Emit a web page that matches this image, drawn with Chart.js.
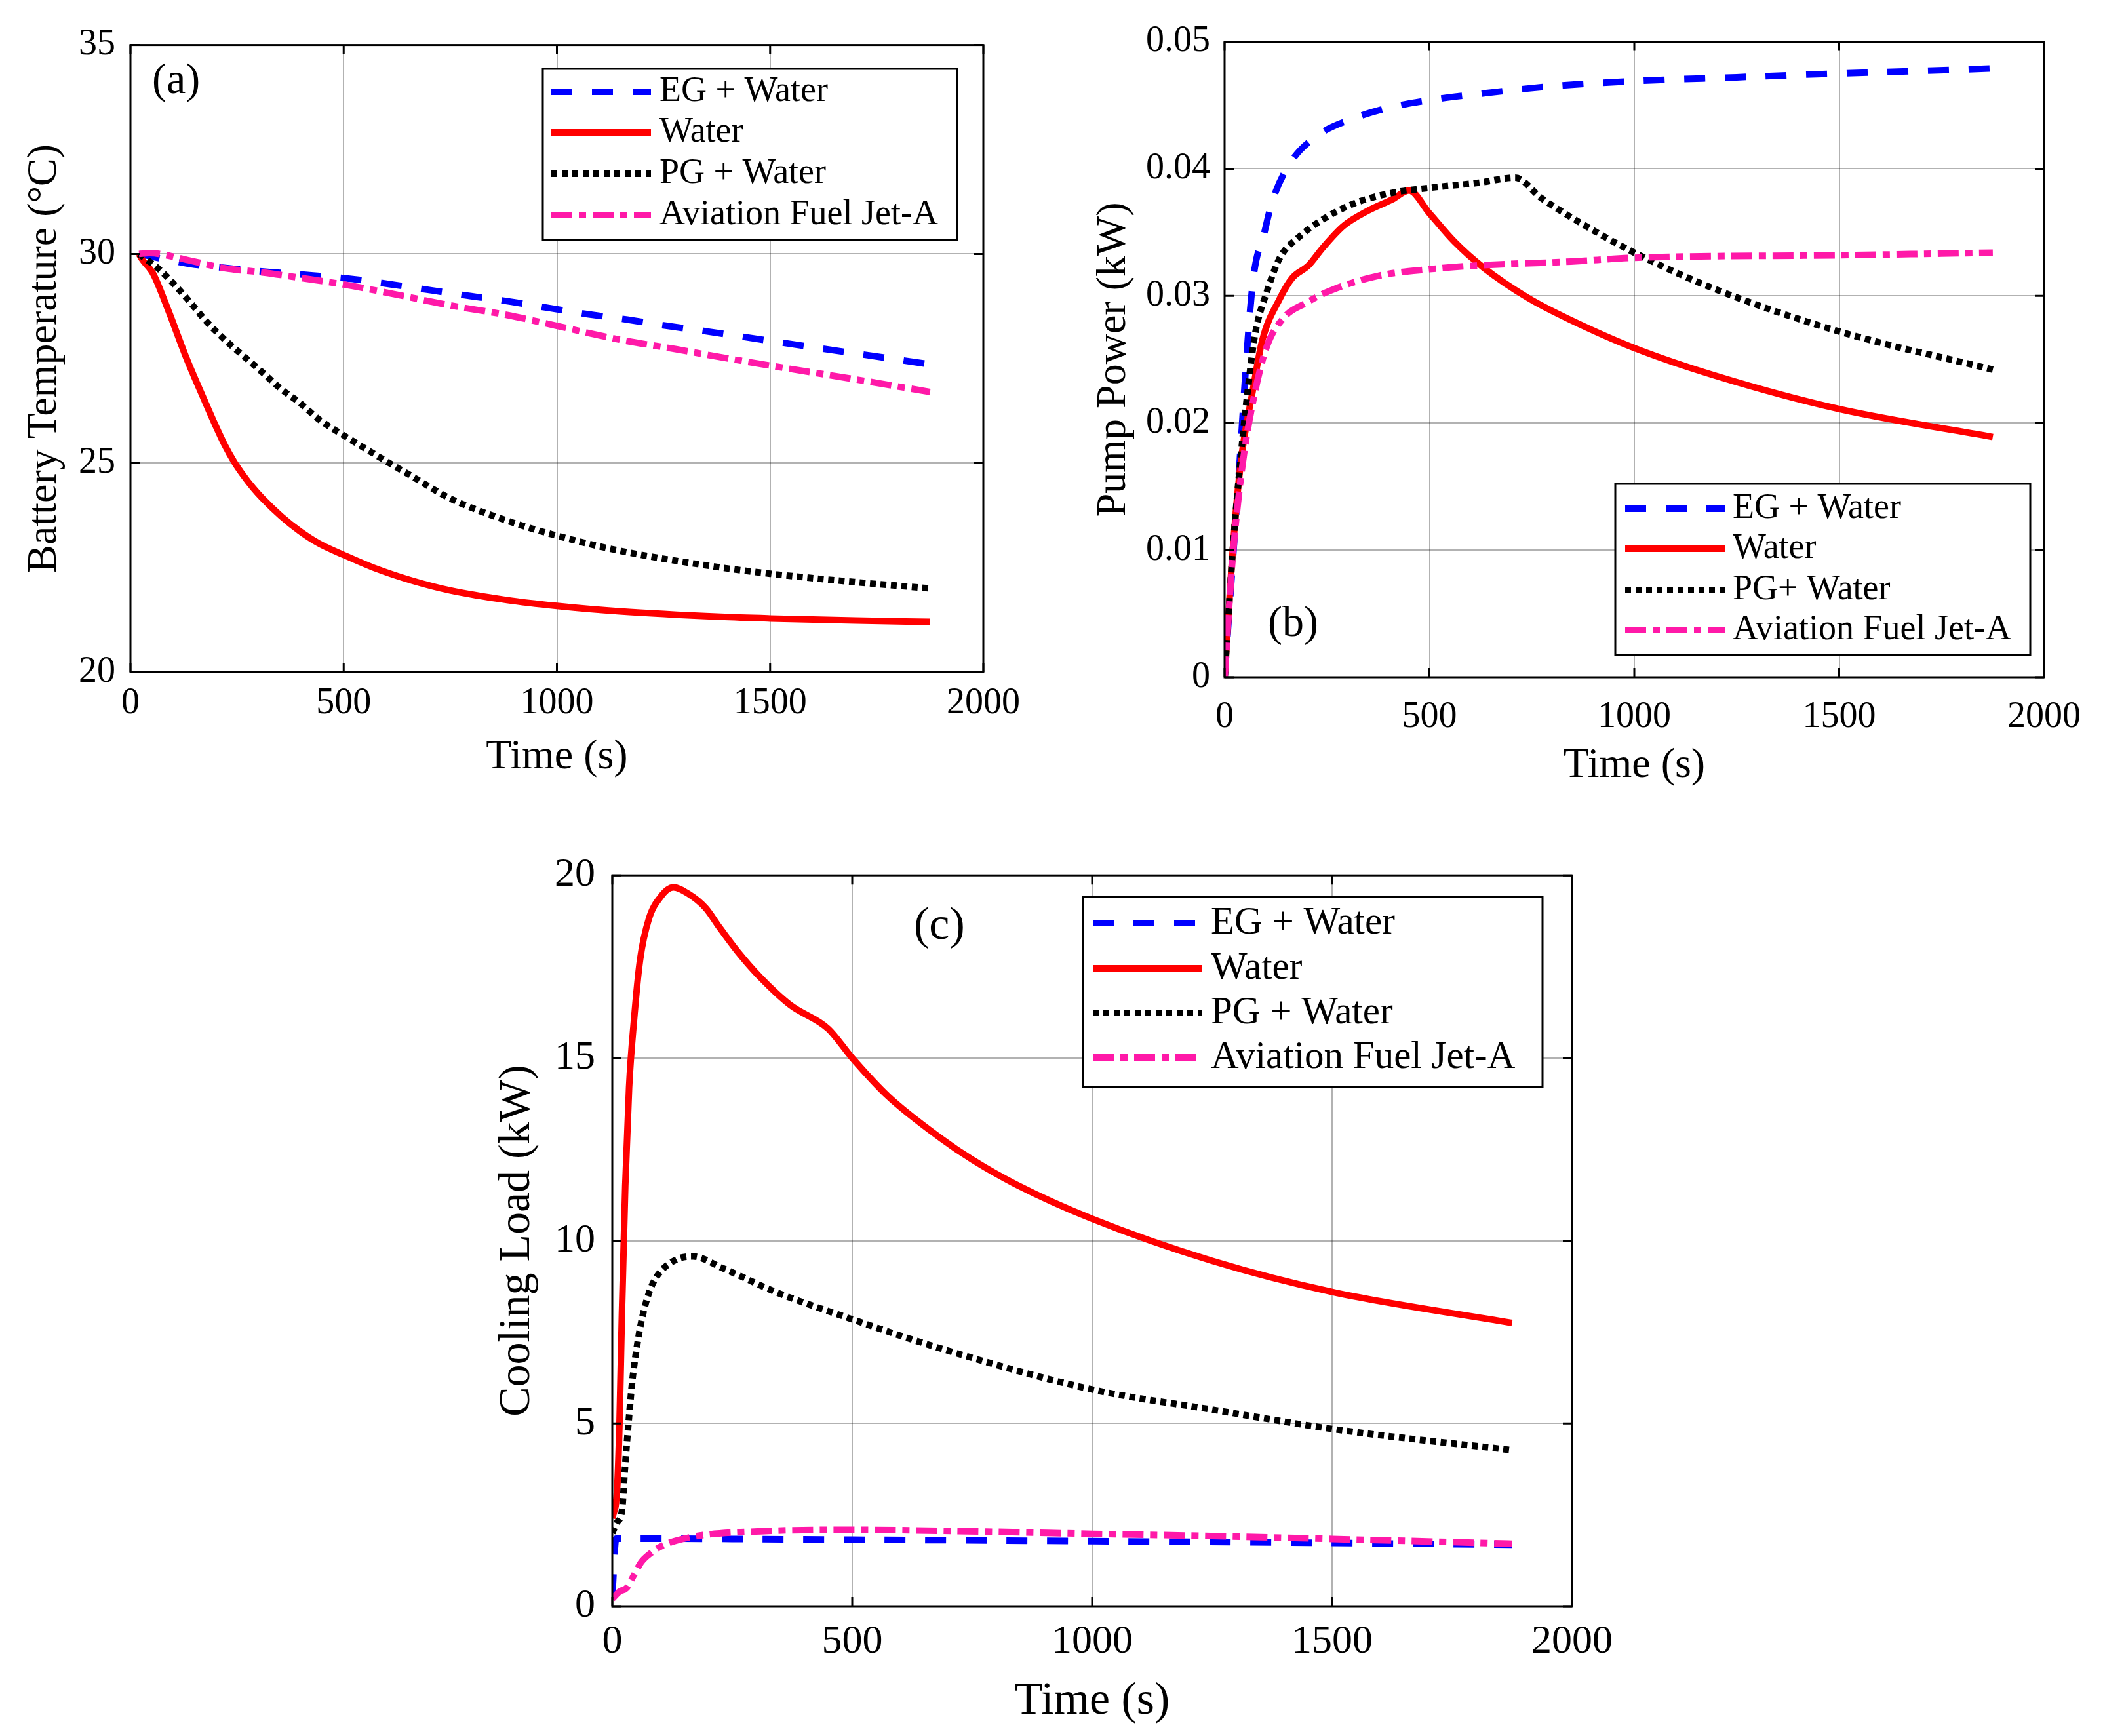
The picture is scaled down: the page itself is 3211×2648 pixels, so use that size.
<!DOCTYPE html>
<html>
<head>
<meta charset="utf-8">
<script src="https://cdn.jsdelivr.net/npm/chart.js@4.4.1/dist/chart.umd.min.js"></script>
<style>
  html, body { margin: 0; padding: 0; background: #fff; width: 3211px; height: 2648px; overflow: hidden; }
  .panel { position: absolute; }
  canvas { display: block; }
</style>
</head>
<body>
<div class="panel" id="pa"><canvas id="ca"></canvas></div>
<div class="panel" id="pb"><canvas id="cb"></canvas></div>
<div class="panel" id="pc"><canvas id="cc"></canvas></div>
<script>
const FONT = "'Liberation Serif', 'Times New Roman', serif";

// shared x axis
const xTickValues = [0, 500, 1000, 1500, 2000];
const xTickLabels = ['0', '500', '1000', '1500', '2000'];
const seriesNames = ['EG + Water', 'Water', 'PG + Water', 'Aviation Fuel Jet-A'];
const seriesNamesB = ['EG + Water', 'Water', 'PG+ Water', 'Aviation Fuel Jet-A'];

// (a) battery temperature
const yTickValuesA = [20, 25, 30, 35];
const yTickLabelsA = ['20', '25', '30', '35'];
const tA_eg = [20, 141, 238, 335, 424, 521, 613, 706, 799, 891, 980, 1072, 1165, 1258, 1350, 1500, 1700, 1875];
const vA_eg = [30.0, 29.76, 29.65, 29.56, 29.49, 29.4, 29.27, 29.13, 28.99, 28.86, 28.71, 28.56, 28.43, 28.28, 28.15, 27.92, 27.62, 27.36];
const tA_water = [20, 26, 53, 88, 132, 176, 198, 221, 243, 265, 287, 309, 353, 397, 441, 500, 574, 662, 750, 883, 1000, 1147, 1384, 1500, 1700, 1875];
const vA_water = [30.0, 29.89, 29.53, 28.67, 27.49, 26.44, 25.93, 25.43, 25.03, 24.7, 24.41, 24.16, 23.73, 23.37, 23.08, 22.8, 22.48, 22.18, 21.95, 21.72, 21.58, 21.45, 21.32, 21.28, 21.23, 21.2];
const tA_pg = [20, 71, 132, 176, 221, 265, 309, 353, 397, 441, 500, 574, 662, 750, 883, 1000, 1147, 1384, 1500, 1700, 1875];
const vA_pg = [30.0, 29.6, 28.94, 28.41, 27.95, 27.56, 27.17, 26.77, 26.44, 26.05, 25.66, 25.2, 24.67, 24.15, 23.62, 23.26, 22.9, 22.5, 22.35, 22.15, 22.0];
const tA_jet = [20, 44, 132, 221, 309, 397, 500, 618, 750, 883, 1000, 1147, 1280, 1384, 1500, 1700, 1875];
const vA_jet = [30.0, 30.02, 29.86, 29.66, 29.56, 29.43, 29.27, 29.04, 28.77, 28.54, 28.28, 27.95, 27.72, 27.53, 27.33, 27.0, 26.7];

// (b) pump power
const yTickValuesB = [0, 0.01, 0.02, 0.03, 0.04, 0.05];
const yTickLabelsB = ['0', '0.01', '0.02', '0.03', '0.04', '0.05'];
const tB_eg = [0, 30, 68, 98, 117, 159, 226, 318, 400, 500, 650, 800, 1000, 1250, 1500, 1700, 1875];
const vB_eg = [0, 0.0137, 0.0308, 0.0351, 0.0375, 0.0404, 0.0426, 0.044, 0.0448, 0.0454, 0.046, 0.0465, 0.0469, 0.0472, 0.0475, 0.0477, 0.0479];
const tB_water = [0, 20, 40, 68, 92, 135, 165, 205, 240, 290, 350, 410, 450, 500, 560, 633, 743, 845, 1000, 1200, 1500, 1875];
const vB_water = [0, 0.01, 0.017, 0.0224, 0.0265, 0.0298, 0.0314, 0.0324, 0.0338, 0.0355, 0.0367, 0.0376, 0.0383, 0.0365, 0.0343, 0.0322, 0.0298, 0.0281, 0.0259, 0.0237, 0.0211, 0.0189];
const tB_pg = [0, 20, 40, 56, 74, 104, 135, 184, 244, 318, 408, 500, 620, 709, 773, 845, 1000, 1200, 1500, 1875];
const vB_pg = [0, 0.01, 0.0175, 0.0224, 0.0269, 0.0304, 0.033, 0.0347, 0.0361, 0.0373, 0.0381, 0.0385, 0.0389, 0.0393, 0.0377, 0.0362, 0.0334, 0.0305, 0.0272, 0.0242];
const tB_jet = [0, 20, 45, 74, 104, 148, 196, 257, 378, 500, 620, 845, 1000, 1500, 1875];
const vB_jet = [0, 0.0095, 0.017, 0.0224, 0.0261, 0.0284, 0.0294, 0.0304, 0.0316, 0.0321, 0.0324, 0.0327, 0.033, 0.0332, 0.0334];

// (c) cooling load
const yTickValuesC = [0, 5, 10, 15, 20];
const yTickLabelsC = ['0', '5', '10', '15', '20'];
const tC_eg = [0, 8, 15, 500, 1000, 1500, 1875];
const vC_eg = [0.3, 1.85, 1.85, 1.82, 1.78, 1.73, 1.68];
const tC_water = [0, 10, 15, 20, 27, 35, 45, 58, 76, 100, 127, 158, 195, 222, 262, 309, 371, 450, 500, 575, 685, 750, 840, 1000, 1250, 1500, 1875];
const vC_water = [2.4, 3.2, 5.0, 8.0, 11.5, 14.2, 16.0, 17.7, 18.8, 19.4, 19.67, 19.5, 19.1, 18.6, 17.9, 17.2, 16.45, 15.8, 15.0, 13.95, 12.8, 12.22, 11.55, 10.6, 9.45, 8.6, 7.75];
const tC_pg = [0, 10, 20, 27, 35, 42, 55, 66, 80, 97, 136, 168, 230, 340, 500, 685, 1000, 1250, 1500, 1875];
const vC_pg = [2.0, 2.3, 2.6, 3.9, 5.2, 6.2, 7.4, 8.1, 8.7, 9.1, 9.5, 9.57, 9.25, 8.6, 7.85, 7.05, 5.93, 5.38, 4.85, 4.27];
const tC_jet = [0, 15, 30, 45, 60, 80, 105, 168, 309, 500, 780, 1000, 1250, 1500, 1875];
const vC_jet = [0.2, 0.4, 0.5, 0.85, 1.2, 1.45, 1.66, 1.9, 2.05, 2.09, 2.04, 1.98, 1.92, 1.84, 1.71];

// line looks, in legend order
const looks = [
  { color: '#0000ff', dash: [32, 30], order: 4 },
  { color: '#ff0000', dash: [], order: 3 },
  { color: '#000000', dash: [9, 7], order: 2 },
  { color: '#ff19a8', dash: [32, 10, 11, 10], order: 1 }
];

function pts(t, v) {
  return t.map((x, i) => ({ x: x, y: v[i] }));
}

// frame, inward ticks, panel letter and boxed legend
const framePlugin = {
  id: 'frame',
  afterDraw(chart, args, o) {
    const { ctx, chartArea: a, scales } = chart;
    const L = 14;
    ctx.save();
    ctx.strokeStyle = '#000';
    ctx.lineWidth = 3;
    ctx.setLineDash([]);
    ctx.beginPath();
    scales.x.ticks.forEach(t => {
      const p = scales.x.getPixelForValue(t.value);
      ctx.moveTo(p, a.bottom); ctx.lineTo(p, a.bottom - L);
      ctx.moveTo(p, a.top); ctx.lineTo(p, a.top + L);
    });
    scales.y.ticks.forEach(t => {
      const p = scales.y.getPixelForValue(t.value);
      ctx.moveTo(a.left, p); ctx.lineTo(a.left + L, p);
      ctx.moveTo(a.right, p); ctx.lineTo(a.right - L, p);
    });
    ctx.stroke();
    ctx.strokeRect(a.left, a.top, a.right - a.left, a.bottom - a.top);

    // panel letter
    ctx.fillStyle = '#000';
    ctx.font = o.labelSize + 'px ' + FONT;
    ctx.textAlign = 'left';
    ctx.textBaseline = 'middle';
    ctx.fillText(o.label, o.labelX, o.labelY);

    // legend
    const b = o.legendBox;
    ctx.fillStyle = '#fff';
    ctx.fillRect(b[0], b[1], b[2] - b[0], b[3] - b[1]);
    ctx.lineWidth = 3;
    ctx.strokeStyle = '#000';
    ctx.strokeRect(b[0], b[1], b[2] - b[0], b[3] - b[1]);
    ctx.font = o.legendSize + 'px ' + FONT;
    chart.data.datasets.forEach((ds, i) => {
      const y = o.legendRows[i];
      ctx.strokeStyle = ds.borderColor;
      ctx.lineWidth = ds.borderWidth;
      ctx.setLineDash(ds.borderDash);
      ctx.beginPath();
      ctx.moveTo(o.legendLine[0], y);
      ctx.lineTo(o.legendLine[1], y);
      ctx.stroke();
      ctx.setLineDash([]);
      ctx.fillStyle = '#000';
      ctx.fillText(ds.label, o.legendText, y);
    });
    ctx.restore();
  }
};

function makePanel(p) {
  const padTop = 50;
  const left = p.plot[0] - p.yAxisW;
  const top = p.plot[1] - padTop;
  const width = p.plot[2] + p.padRight - left;
  const height = padTop + (p.plot[3] - p.plot[1]) + p.xAxisH;
  const box = document.getElementById(p.box);
  box.style.left = left + 'px';
  box.style.top = top + 'px';
  const cv = document.getElementById(p.canvas);
  cv.width = width; cv.height = height;
  cv.style.width = width + 'px'; cv.style.height = height + 'px';

  const lb = p.legendBox;
  const frame = {
    label: p.label, labelSize: p.labelSize,
    labelX: p.labelPos[0] - left, labelY: p.labelPos[1] - top,
    legendBox: [lb[0] - left, lb[1] - top, lb[2] - left, lb[3] - top],
    legendRows: p.legendRows.map(y => y - top),
    legendLine: p.legendLine.map(x => x - left),
    legendText: p.legendText - left,
    legendSize: p.legendSize
  };

  const datasets = p.series.map((s, i) => ({
    label: p.names[i],
    data: pts(s[0], s[1]),
    borderColor: looks[i].color,
    borderDash: looks[i].dash,
    borderWidth: 10,
    borderCapStyle: 'butt',
    borderJoinStyle: 'round',
    pointRadius: 0,
    fill: false,
    cubicInterpolationMode: 'monotone',
    order: looks[i].order
  }));

  new Chart(cv, {
    type: 'line',
    data: { datasets: datasets },
    plugins: [framePlugin],
    options: {
      responsive: false,
      animation: false,
      devicePixelRatio: 1,
      layout: { padding: { top: padTop, right: p.padRight, left: 0, bottom: 0 } },
      plugins: {
        legend: { display: false },
        tooltip: { enabled: false },
        frame: frame
      },
      scales: {
        x: {
          type: 'linear', min: 0, max: 2000,
          afterBuildTicks: s => { s.ticks = xTickValues.map(v => ({ value: v })); },
          afterFit: s => { s.height = p.xAxisH; },
          ticks: {
            autoSkip: false, maxRotation: 0, padding: p.xTickPad, color: '#000',
            font: { family: FONT, size: p.tickSize },
            callback: (v, i) => xTickLabels[i]
          },
          grid: { color: 'rgba(0,0,0,0.3)', lineWidth: 2, drawTicks: false },
          border: { display: false },
          title: {
            display: true, text: 'Time (s)', color: '#000',
            font: { family: FONT, size: p.xTitleSize },
            padding: { top: 0, bottom: 0 }
          }
        },
        y: {
          type: 'linear', min: p.yMin, max: p.yMax,
          afterBuildTicks: s => { s.ticks = p.yTickValues.map(v => ({ value: v })); },
          afterFit: s => { s.width = p.yAxisW; },
          ticks: {
            autoSkip: false, padding: p.yTickPad, color: '#000',
            font: { family: FONT, size: p.tickSize },
            callback: (v, i) => p.yTickLabels[i]
          },
          grid: { color: 'rgba(0,0,0,0.3)', lineWidth: 2, drawTicks: false },
          border: { display: false },
          title: {
            display: true, text: p.yTitle, color: '#000',
            font: { family: FONT, size: p.yTitleSize },
            padding: { top: p.yTitlePad, bottom: 0 }
          }
        }
      }
    }
  });
}

makePanel({
  box: 'pa', canvas: 'ca', plot: [199, 62, 1500, 1025], yAxisW: 199, padRight: 80, xAxisH: 169,
  yMin: 20, yMax: 35, yTickValues: yTickValuesA, yTickLabels: yTickLabelsA,
  yTitle: 'Battery Temperature (°C)', yTitleSize: 64, yTitlePad: 30,
  tickSize: 56, xTickPad: 15, yTickPad: 23, xTitleSize: 64,
  label: '(a)', labelSize: 66, labelPos: [232, 125],
  legendBox: [828, 105, 1460, 366], legendRows: [140, 202, 265, 328], legendLine: [841, 993], legendText: 1006, legendSize: 54,
  names: seriesNames,
  series: [[tA_eg, vA_eg], [tA_water, vA_water], [tA_pg, vA_pg], [tA_jet, vA_jet]]
});

makePanel({
  box: 'pb', canvas: 'cb', plot: [1868, 58, 3132, 1033], yAxisW: 220, padRight: 70, xAxisH: 174,
  yMin: 0, yMax: 0.05, yTickValues: yTickValuesB, yTickLabels: yTickLabelsB,
  yTitle: 'Pump Power (kW)', yTitleSize: 64, yTitlePad: 13,
  tickSize: 56, xTickPad: 28, yTickPad: 22, xTitleSize: 64,
  label: '(b)', labelSize: 66, labelPos: [1934, 953],
  legendBox: [2464, 738, 3097, 999], legendRows: [776, 837, 900, 961], legendLine: [2479, 2631], legendText: 2643, legendSize: 54,
  names: seriesNamesB,
  series: [[tB_eg, vB_eg], [tB_water, vB_water], [tB_pg, vB_pg], [tB_jet, vB_jet]]
});

makePanel({
  box: 'pc', canvas: 'cc', plot: [934, 1322, 2398, 2450], yAxisW: 234, padRight: 80, xAxisH: 188,
  yMin: 0, yMax: 20, yTickValues: yTickValuesC, yTickLabels: yTickLabelsC,
  yTitle: 'Cooling Load (kW)', yTitleSize: 68, yTitlePad: 48,
  tickSize: 62, xTickPad: 18, yTickPad: 26, xTitleSize: 70,
  label: '(c)', labelSize: 70, labelPos: [1394, 1414],
  legendBox: [1652, 1368, 2353, 1658], legendRows: [1408, 1477, 1545, 1613], legendLine: [1667, 1834], legendText: 1847, legendSize: 59,
  names: seriesNames,
  series: [[tC_eg, vC_eg], [tC_water, vC_water], [tC_pg, vC_pg], [tC_jet, vC_jet]]
});
</script>
</body>
</html>
